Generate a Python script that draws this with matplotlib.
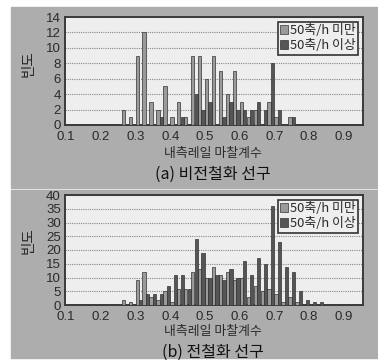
import matplotlib
matplotlib.use("Agg")
import matplotlib.pyplot as plt
from matplotlib.patches import Rectangle

plt.rcParams['font.family'] = ['Noto Sans CJK KR', 'DejaVu Sans']

# Friction coefficient bins (left edge of each 0.02 bin)
bins = [0.26, 0.28, 0.30, 0.32, 0.34, 0.36, 0.38, 0.40, 0.42, 0.44,
        0.46, 0.48, 0.50, 0.52, 0.54, 0.56, 0.58, 0.60, 0.62, 0.64,
        0.66, 0.68, 0.70, 0.72, 0.74, 0.76, 0.78, 0.80, 0.82]

# (a) non-electrified lines
a_under = [2, 1, 9, 12, 3, 2, 5, 1, 3, 1, 9, 9, 6, 9, 7, 4, 7, 3, 1, 2,
           0, 3, 1, 0, 1, 0, 0, 0, 0]
a_over = [0, 0, 0, 0, 0, 1, 0, 0, 1, 0, 4, 2, 3, 0, 1, 3, 2, 2, 2, 3,
          2, 8, 2, 0, 1, 0, 0, 0, 0]

# (b) electrified lines
b_under = [2, 1, 9, 12, 3, 2, 5, 1, 6, 6, 12, 13, 10, 14, 11, 12, 9, 10, 3, 7,
           5, 6, 4, 1, 3, 1, 0, 0, 0]
b_over = [0, 0, 2, 4, 4, 4, 7, 11, 11, 6, 24, 19, 10, 11, 9, 13, 10, 16, 11, 17,
          15, 36, 23, 14, 12, 5, 2, 1, 1]

labels = ['50축/h 미만', '50축/h 이상']
xticks = [0.1, 0.2, 0.3, 0.4, 0.5, 0.6, 0.7, 0.8, 0.9]

W, H = 378, 362
bg = '#adadad'
panel = '#eeeeee'
light = '#9a9a9a'
dark = '#555555'
edge = '#333333'
txt = '#2a2a2a'
numfont = ['Liberation Sans', 'DejaVu Sans']

fig = plt.figure(figsize=(W / 100, H / 100), dpi=100)
fig.patch.set_facecolor('white')

# scanned page background, one strip per panel
fig.patches.append(Rectangle((11 / W, 1 - 188 / H), 1, 181 / H,
                             transform=fig.transFigure, color=bg, zorder=-10))
fig.patches.append(Rectangle((11 / W, 1 - 358 / H), 1, 168 / H,
                             transform=fig.transFigure, color=bg, zorder=-10))


def px_axes(l, t, r, b):
    return fig.add_axes([l / W, 1 - b / H, (r - l) / W, (b - t) / H])


def draw(ax, under, over, ymax, ystep):
    x1 = [x for x, v in zip(bins, under) if v > 0]
    h1 = [v for v in under if v > 0]
    x2 = [x + 0.01 for x, v in zip(bins, over) if v > 0]
    h2 = [v for v in over if v > 0]
    b1 = ax.bar(x1, h1, width=0.0095, align='edge', color=light,
                edgecolor=edge, linewidth=0.5, zorder=3)
    b2 = ax.bar(x2, h2, width=0.0095, align='edge', color=dark,
                edgecolor=edge, linewidth=0.5, zorder=3)
    ax.set_facecolor(panel)
    ax.set_xlim(0.097, 0.955)
    ax.set_ylim(0, ymax)
    ax.set_yticks(range(0, ymax + 1, ystep))
    ax.set_xticks(xticks)
    ax.set_xticklabels([f'{t:.1f}' for t in xticks])
    ax.tick_params(length=0, labelsize=9.5, colors=txt)
    ax.tick_params(axis='x', pad=4)
    ax.tick_params(axis='y', pad=3)
    for t in ax.get_xticklabels() + ax.get_yticklabels():
        t.set_family(numfont)
    ax.grid(axis='y', color='#888888', linestyle=(0, (1, 1)), linewidth=0.8, zorder=1)
    for s in ax.spines.values():
        s.set_color('#3a3a3a')
        s.set_linewidth(1.4)
    leg = ax.legend([b1, b2], labels, loc='upper right', fontsize=9.3,
                    handlelength=0.6, handleheight=0.6, handletextpad=0.15,
                    borderpad=0.2, labelspacing=0.15, fancybox=False,
                    framealpha=1, facecolor=panel, edgecolor='#333333',
                    borderaxespad=0.35)
    leg.get_frame().set_linewidth(1.2)
    for t in leg.get_texts():
        t.set_color(txt)


ax1 = px_axes(65, 17, 363, 125)
draw(ax1, a_under, a_over, 14, 2)
ax2 = px_axes(65, 195, 363, 305)
draw(ax2, b_under, b_over, 40, 5)

for y in (64, 241):
    fig.text(29 / W, 1 - y / H, '빈도', rotation=90, ha='center', va='center',
             fontsize=10.5, color=txt, fontweight='medium')
fig.text(213 / W, 1 - 153 / H, '내측레일 마찰계수', ha='center', va='center',
         fontsize=9.3, color=txt)
fig.text(213 / W, 1 - 174 / H, '(a) 비전철화 선구', ha='center', va='center',
         fontsize=11.5, color='#111111', fontweight='medium')
fig.text(213 / W, 1 - 332 / H, '내측레일 마찰계수', ha='center', va='center',
         fontsize=9.3, color=txt)
fig.text(213 / W, 1 - 352 / H, '(b) 전철화 선구', ha='center', va='center',
         fontsize=11.5, color='#111111', fontweight='medium')

fig.savefig('out.png', dpi=100)
